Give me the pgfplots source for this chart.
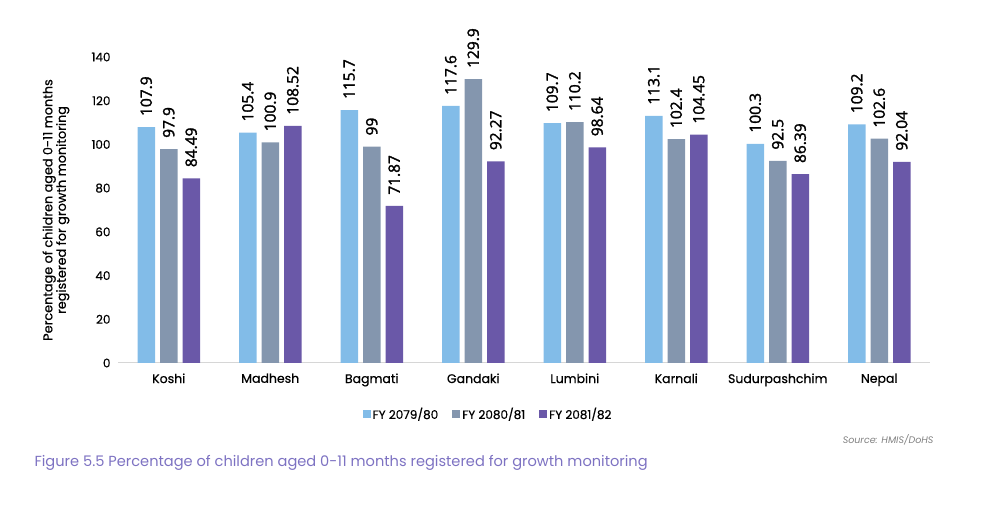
\documentclass[border=0pt]{standalone}
\usepackage{fontspec}
\setmainfont{Poppins}
\newfontfamily\medfont{Poppins}[FakeBold=0.6]
\newfontfamily\valfont{Open Sans}[FakeBold=1.8]
\usepackage{pgfplots}
\pgfplotsset{compat=1.18}

\definecolor{fyA}{HTML}{82BCE8}
\definecolor{fyB}{HTML}{8496AE}
\definecolor{fyC}{HTML}{6A58A8}
\definecolor{capcol}{HTML}{7D72C2}
\definecolor{basecol}{HTML}{D6D6D6}

\begin{document}
\begin{tikzpicture}[x=1pt,y=1pt]
\useasboundingbox (0,0) rectangle (1000,519);
\begin{axis}[
  at={(118pt,156pt)}, anchor=south west,
  scale only axis, width=812pt, height=306pt,
  xmin=-0.5, xmax=7.5, ymin=0, ymax=140,
  axis line style={draw=none},
  major tick length=0pt,
  ytick={0,20,...,140},
  xtick={0,...,7},
  xticklabels={Koshi,Madhesh,Bagmati,Gandaki,Lumbini,Karnali,Sudurpashchim,Nepal},
  /pgf/number format/assume math mode=true,
  yticklabel style={font=\medfont\fontsize{12}{14}\selectfont, xshift=-4pt},
  xticklabel style={font=\medfont\fontsize{12.5}{15}\selectfont, yshift=-7pt},
  ylabel={Percentage of children aged 0-11 months\\registered for growth monitoring},
  ylabel style={at={(axis description cs:-0.0764,0.5)}, anchor=center, align=center,
                font=\medfont\fontsize{12.8}{13.5}\selectfont},
  ybar, bar width=17.5pt,
  point meta=explicit symbolic,
  nodes near coords,
  every node near coord/.append style={rotate=90, anchor=west, inner xsep=11pt,
                font=\valfont\fontsize{15.5}{18}\selectfont, text=black},
  legend columns=3,
  legend style={at={(axis description cs:0.4557,-0.1667)}, anchor=center, draw=none,
                font=\medfont\fontsize{12}{14}\selectfont,
                /tikz/every even column/.append style={column sep=12pt}},
  legend image code/.code={\fill[#1] (0pt,-4pt) rectangle (8pt,4pt);},
]
\draw[basecol, line width=1.3pt] (axis cs:-0.5,0) -- (axis cs:7.5,0);
\addplot[fill=fyA, draw=none, bar shift=-22.5pt] coordinates {
  (0,107.9) [107.9] (1,105.4) [105.4] (2,115.7) [115.7] (3,117.6) [117.6]
  (4,109.7) [109.7] (5,113.1) [113.1] (6,100.3) [100.3] (7,109.2) [109.2]};
\addplot[fill=fyB, draw=none, bar shift=0pt] coordinates {
  (0,97.9) [97.9] (1,100.9) [100.9] (2,99) [99] (3,129.9) [129.9]
  (4,110.2) [110.2] (5,102.4) [102.4] (6,92.5) [92.5] (7,102.6) [102.6]};
\addplot[fill=fyC, draw=none, bar shift=22.5pt] coordinates {
  (0,84.49) [84.49] (1,108.52) [108.52] (2,71.87) [71.87] (3,92.27) [92.27]
  (4,98.64) [98.64] (5,104.45) [104.45] (6,86.39) [86.39] (7,92.04) [92.04]};
\legend{FY 2079/80, FY 2080/81, FY 2081/82}
\end{axis}
\node[anchor=east, font=\itshape\fontsize{9.5}{11}\selectfont, text=gray] at (937,79) {Source: HMIS/DoHS};
\node[anchor=west, font=\fontsize{14.6}{18}\selectfont, text=capcol] at (31,56) {Figure 5.5 Percentage of children aged 0-11 months registered for growth monitoring};
\end{tikzpicture}
\end{document}
